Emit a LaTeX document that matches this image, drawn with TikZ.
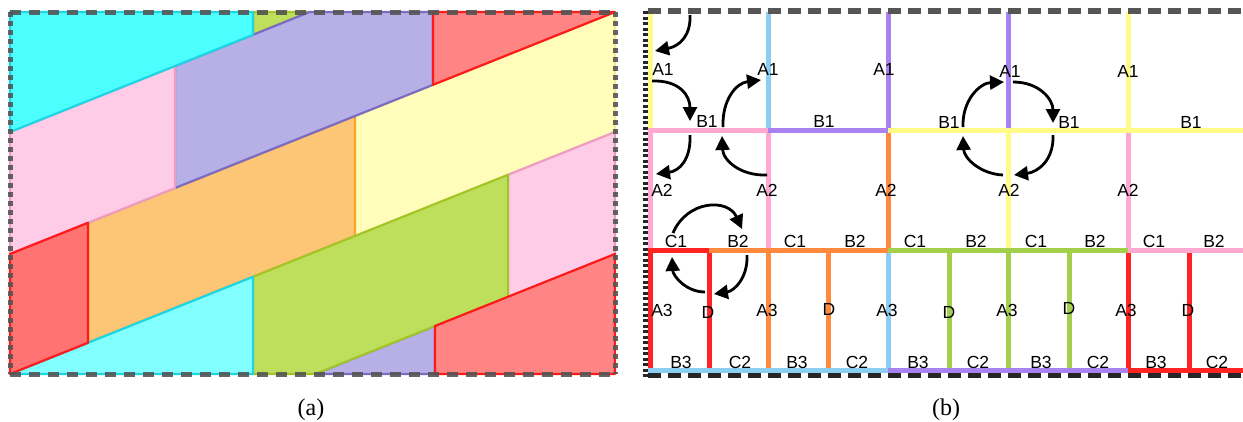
\documentclass[tikz,border=0pt]{standalone}
\usepackage{fontspec}
\setmainfont{Liberation Serif}
\newfontfamily\lsans{Liberation Sans}
\usetikzlibrary{arrows.meta}
\definecolor{cyanA}{HTML}{4CFFFF}
\definecolor{cyanB}{HTML}{82FFFF}
\definecolor{cyanE}{HTML}{1ED5E5}
\definecolor{greenA}{HTML}{BEDF5C}
\definecolor{greenE}{HTML}{A3C527}
\definecolor{purpA}{HTML}{B6B0E6}
\definecolor{purpE}{HTML}{7B6BC2}
\definecolor{redA}{HTML}{FF8585}
\definecolor{redL}{HTML}{FF7373}
\definecolor{redE}{HTML}{FF1A1A}
\definecolor{yelA}{HTML}{FFFDB9}
\definecolor{yelE}{HTML}{F2EE90}
\definecolor{pinkA}{HTML}{FECCE7}
\definecolor{pinkE}{HTML}{EE9CC4}
\definecolor{orgA}{HTML}{FDC576}
\definecolor{orgE}{HTML}{F5A623}
\definecolor{frameC}{HTML}{555555}
% panel b line colours
\definecolor{lb}{HTML}{8CCDF2}
\definecolor{lpu}{HTML}{A882F0}
\definecolor{lye}{HTML}{FFFB87}
\definecolor{lpi}{HTML}{FFA9D2}
\definecolor{lor}{HTML}{FF8A3D}
\definecolor{lgr}{HTML}{A3CF4B}
\definecolor{lre}{HTML}{FF2424}
\begin{document}
\begin{tikzpicture}[x=1pt,y=-1pt,
  tile/.style={line width=2.2pt, line join=round},
  gline/.style={line width=5pt},
  lab/.style={font=\lsans\fontsize{17.5}{17.5}\selectfont, inner sep=0pt},
  captext/.style={font=\fontsize{24}{24}\selectfont, inner sep=0pt},
  arr/.style={line width=2.8pt, -{Triangle[length=14pt,width=14pt]}}
]
\useasboundingbox (0,0) rectangle (1243,421);
\fill[white] (0,0) rectangle (1243,421);
%% ---------------- panel (a) ----------------
\filldraw[tile, fill=yelA, draw=yelE] (355,116) -- (433,84.8) -- (615,12) -- (615,132) -- (508,174.8) -- (355,236) -- cycle;
\filldraw[tile, fill=pinkA, draw=pinkE] (508,174.8) -- (615,132) -- (615,254) -- (508,296.8) -- cycle;
\filldraw[tile, fill=orgA, draw=orgE] (88,222.8) -- (355,116) -- (355,236) -- (253,276.8) -- (88,342.8) -- cycle;
\filldraw[tile, fill=purpA, draw=purpE] (315,374) -- (435,326) -- (435,374) -- cycle;
\filldraw[tile, fill=greenA, draw=greenE] (253,276.8) -- (508,174.8) -- (508,296.8) -- (435,326) -- (315,374) -- (253,374) -- cycle;
\filldraw[tile, fill=greenA, draw=greenE] (253,12) -- (309.5,12) -- (253,34.8) -- cycle;
\filldraw[tile, fill=purpA, draw=purpE] (175,66) -- (253,34.8) -- (309.5,12) -- (433,12) -- (433,84.8) -- (175,188) -- cycle;
\filldraw[tile, fill=pinkA, draw=pinkE] (10,132) -- (175,66) -- (175,188) -- (88,222.8) -- (10,254) -- cycle;
\filldraw[tile, fill=cyanA, draw=cyanE] (10,12) -- (253,12) -- (253,34.8) -- (10,132) -- cycle;
\filldraw[tile, fill=cyanB, draw=cyanE] (10,374) -- (253,276.8) -- (253,374) -- cycle;
\filldraw[tile, fill=redL, draw=redE] (10,254) -- (88,222.8) -- (88,342.8) -- (10,374) -- cycle;
\filldraw[tile, fill=redA, draw=redE] (433,12) -- (615,12) -- (433,84.8) -- cycle;
\filldraw[tile, fill=redA, draw=redE] (435,326) -- (508,296.8) -- (615,254) -- (615,374) -- (435,374) -- cycle;
% frame (a)
\draw[frameC, opacity=0.9, line width=5pt, dash pattern=on 11pt off 8pt] (10,12) -- (615,12);
\draw[frameC, opacity=0.9, line width=5pt, dash pattern=on 11pt off 8pt] (10,374) -- (615,374);
\draw[frameC, opacity=0.9, line width=5pt, dash pattern=on 5pt off 4pt] (10,12) -- (10,374);
\draw[frameC, opacity=0.9, line width=5pt, dash pattern=on 5pt off 4pt] (615,12) -- (615,374);
%% ---------------- panel (b) ----------------
% top row verticals
\draw[gline, lye] (650,12) -- (650,130);
\draw[gline, lb]  (768,12) -- (768,130);
\draw[gline, lpu] (888,12) -- (888,130);
\draw[gline, lpu] (1008,12) -- (1008,130);
\draw[gline, lye] (1128,12) -- (1128,130);
% middle row verticals
\draw[gline, lpi] (650,130) -- (650,250);
\draw[gline, lpi] (768,130) -- (768,250);
\draw[gline, lor] (888,130) -- (888,250);
\draw[gline, lye] (1008,130) -- (1008,250);
\draw[gline, lpi] (1128,130) -- (1128,250);
% bottom row verticals
\draw[gline, lre] (650,250) -- (650,370);
\draw[gline, lre] (709,250) -- (709,370);
\draw[gline, lor] (768,250) -- (768,370);
\draw[gline, lor] (828,250) -- (828,370);
\draw[gline, lb]  (888,250) -- (888,370);
\draw[gline, lgr] (949,250) -- (949,370);
\draw[gline, lgr] (1008,250) -- (1008,370);
\draw[gline, lgr] (1069,250) -- (1069,370);
\draw[gline, lre] (1128,250) -- (1128,370);
\draw[gline, lre] (1189,250) -- (1189,370);
% horizontals y=130
\draw[gline, lpi] (648,130) -- (768,130);
\draw[gline, lpu] (768,130) -- (888,130);
\draw[gline, lye] (888,130) -- (1243,130);
% horizontals y=250
\draw[gline, lre] (648,250) -- (709,250);
\draw[gline, lor] (709,250) -- (888,250);
\draw[gline, lgr] (888,250) -- (1128,250);
\draw[gline, lpi] (1128,250) -- (1243,250);
% horizontals y=370
\draw[gline, lb]  (648,370) -- (888,370);
\draw[gline, lpu] (888,370) -- (1128,370);
\draw[gline, lre] (1128,370) -- (1243,370);
% frame (b)
\draw[frameC, line width=6pt, dash pattern=on 13pt off 7pt] (648,11) -- (1243,11);
\draw[black!85, line width=5pt, dash pattern=on 13pt off 7pt] (648,375) -- (1243,375);
\draw[black!85, line width=5pt, dash pattern=on 3pt off 2.5pt] (645,11) -- (645,377);
% labels
\node[lab] (a1p) at (663,69) {A1};
\node[lab] (a1q) at (768,69) {A1};
\node[lab] (a1r) at (884,69) {A1};
\node[lab] (a1s) at (1010,71) {A1};
\node[lab] (a1t) at (1128,71) {A1};
\node[lab] (b1p) at (707,121) {B1};
\node[lab] (b1q) at (824,121) {B1};
\node[lab] (b1r) at (949,122) {B1};
\node[lab] (b1s) at (1069,122) {B1};
\node[lab] (b1t) at (1191,122) {B1};
\node[lab] (a2p) at (662,190) {A2};
\node[lab] (a2q) at (767,190) {A2};
\node[lab] (a2r) at (886,190) {A2};
\node[lab] (a2s) at (1009,190) {A2};
\node[lab] (a2t) at (1128,190) {A2};
\node[lab] (c1p) at (676,241) {C1};
\node[lab] (b2p) at (738,241) {B2};
\node[lab] (c1q) at (795,241) {C1};
\node[lab] (b2q) at (855,241) {B2};
\node[lab] (c1r) at (915,241) {C1};
\node[lab] (b2r) at (976,241) {B2};
\node[lab] (c1s) at (1036,241) {C1};
\node[lab] (b2s) at (1095,241) {B2};
\node[lab] (c1t) at (1154,241) {C1};
\node[lab] (b2t) at (1214,241) {B2};
\node[lab] (a3p) at (662,310) {A3};
\node[lab] (dp)  at (708,312) {D};
\node[lab] (a3q) at (767,310) {A3};
\node[lab] (dq)  at (829,309) {D};
\node[lab] (a3r) at (887,310) {A3};
\node[lab] (dr)  at (949,312) {D};
\node[lab] (a3s) at (1007,310) {A3};
\node[lab] (ds)  at (1069,308) {D};
\node[lab] (a3t) at (1126,310) {A3};
\node[lab] (dt)  at (1188,310) {D};
\node[lab] (b3p) at (681,362) {B3};
\node[lab] (c2p) at (740,362) {C2};
\node[lab] (b3q) at (797,362) {B3};
\node[lab] (c2q) at (857,362) {C2};
\node[lab] (b3r) at (918,362) {B3};
\node[lab] (c2r) at (978,362) {C2};
\node[lab] (b3s) at (1041,362) {B3};
\node[lab] (c2s) at (1098,362) {C2};
\node[lab] (b3t) at (1156,362) {B3};
\node[lab] (c2t) at (1217,362) {C2};
% arrow end points
\coordinate (s1) at (690,15);   \coordinate (e1) at (655,51);
\coordinate (s2) at (652,81);   \coordinate (e2) at (690,121);
\coordinate (s3) at (723,127);  \coordinate (e3) at (761,80);
\coordinate (s4) at (690,135);  \coordinate (e4) at (656,174);
\coordinate (s5) at (767,175);  \coordinate (e5) at (722,136);
\coordinate (s6) at (1013,82);  \coordinate (e6) at (1053,123);
\coordinate (s7) at (1053,135); \coordinate (e7) at (1014,175);
\coordinate (s8) at (1003,175); \coordinate (e8) at (963,136);
\coordinate (s9) at (963,127);  \coordinate (e9) at (1004,82);
\coordinate (s10) at (673,233); \coordinate (e10) at (742,229);
\coordinate (s11) at (747,255); \coordinate (e11) at (714,294);
\coordinate (s12) at (705,292); \coordinate (e12) at (672,257);
\draw[arr] (s1) .. controls (691,35) and (680,46) .. (e1);
\draw[arr] (s2) .. controls (680,80) and (690,96) .. (e2);
\draw[arr] (s3) .. controls (722,100) and (736,83) .. (e3);
\draw[arr] (s4) .. controls (691,160) and (679,171) .. (e4);
\draw[arr] (s5) .. controls (740,176) and (723,160) .. (e5);
\draw[arr] (s6) .. controls (1040,82) and (1053,100) .. (e6);
\draw[arr] (s7) .. controls (1054,160) and (1038,172) .. (e7);
\draw[arr] (s8) .. controls (980,174) and (964,158) .. (e8);
\draw[arr] (s9) .. controls (962,100) and (980,83) .. (e9);
\draw[arr] (s10) .. controls (687,200) and (728,198) .. (e10);
\draw[arr] (s11) .. controls (748,278) and (734,291) .. (e11);
\draw[arr] (s12) .. controls (686,292) and (673,276) .. (e12);
% captions
\node[captext] (capa) at (311,410) {(a)};
\node[captext] (capb) at (946,410) {(b)};
\end{tikzpicture}
\end{document}
